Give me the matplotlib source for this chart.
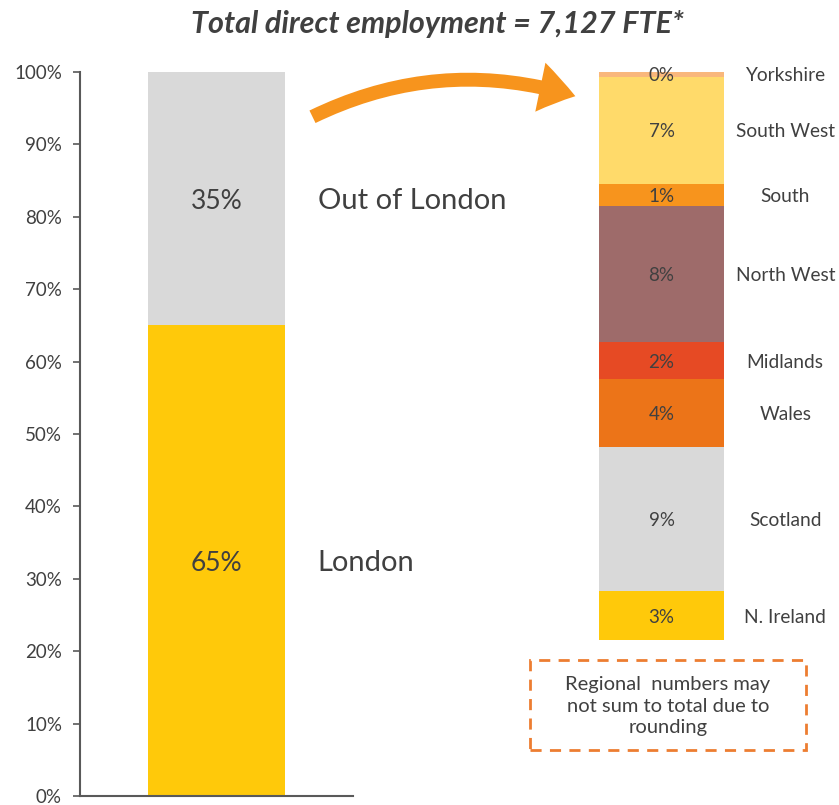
import matplotlib.pyplot as plt
import matplotlib.patches as mpatches
from matplotlib.ticker import PercentFormatter

plt.rcParams['font.family'] = ['Lato', 'DejaVu Sans']

# left bar: split of total employment (%)
split_labels = ["London", "Out of London"]
split_values = [65, 35]
split_colors = ["#FFC90A", "#D9D9D9"]

# right bar: regional breakdown (% of total), bottom to top
regions = ["N. Ireland", "Scotland", "Wales", "Midlands", "North West",
           "South", "South West", "Yorkshire"]
region_values = [3.0, 8.9, 4.2, 2.3, 8.4, 1.4, 6.6, 0.3]
region_colors = ["#FFC90A", "#D9D9D9", "#EC7418", "#E64A24", "#9E6B6A",
                 "#F7941D", "#FFDA6A", "#F9B77C"]

txt = "#404040"
W, H = 839, 805
fig = plt.figure(figsize=(W / 100, H / 100), dpi=100)

def box(x0, y0, x1, y1):
    # pixel box (y from top) -> figure fraction rect
    return [x0 / W, 1 - y1 / H, (x1 - x0) / W, (y1 - y0) / H]

# ---- left bar
ax = fig.add_axes(box(80, 72, 353, 796))
bottom = 0
for lab, v, c in zip(split_labels, split_values, split_colors):
    ax.bar(0, v, width=1, bottom=bottom, color=c)
    ax.text(0, bottom + v / 2, f"{v}%", ha="center", va="center_baseline",
            fontsize=19, color=txt)
    ax.text(0.74, bottom + v / 2, lab, ha="left", va="center_baseline",
            fontsize=21, color=txt, clip_on=False)
    bottom += v
ax.set_xlim(-1, 1)
ax.set_ylim(0, 100)
ax.set_yticks(range(0, 101, 10))
ax.yaxis.set_major_formatter(PercentFormatter(decimals=0))
ax.set_xticks([])
for s in ["top", "right"]:
    ax.spines[s].set_visible(False)
for s in ["left", "bottom"]:
    ax.spines[s].set_color("#595959")
    ax.spines[s].set_linewidth(1.5)
ax.tick_params(axis="y", colors="#595959", labelsize=13.5, length=5, width=1.2,
               labelcolor=txt, pad=8)

# ---- right bar (regional)
ax2 = fig.add_axes(box(599, 72, 724, 796))
total = sum(region_values)
# stack top at 100% line, stack bottom at ~22% of the left axis
px_per_unit = (640 - 72) / total
span = (796 - 72) / px_per_unit
ax2.set_ylim(total - span, total)
ax2.set_xlim(-0.5, 0.5)
bottom = 0
for lab, v, c in zip(regions, region_values, region_colors):
    ax2.bar(0, v, width=1, bottom=bottom, color=c)
    ax2.text(0, bottom + v / 2, f"{round(v)}%", ha="center",
             va="center_baseline", fontsize=13.5, color=txt)
    ax2.text(0.99, bottom + v / 2, lab, ha="center", va="center_baseline",
             fontsize=13.8, color=txt, clip_on=False)
    bottom += v
ax2.axis("off")

# ---- title
fig.text(437 / W, 1 - 24 / H, "Total direct employment = 7,127 FTE*",
         ha="center", va="center", fontsize=22, fontweight="bold",
         fontstyle="italic", color=txt)

# ---- curved arrow
arrow = mpatches.FancyArrowPatch(
    (310 / W, 1 - 118 / H), (578 / W, 1 - 97 / H),
    transform=fig.transFigure,
    connectionstyle="arc3,rad=-0.2",
    arrowstyle=mpatches.ArrowStyle.Simple(head_length=1.3, head_width=1.8,
                                          tail_width=0.5),
    mutation_scale=20, color="#F7941D", lw=0)
fig.patches.append(arrow)

# ---- note box
r = box(530, 660, 806, 750)
note = mpatches.Rectangle((r[0], r[1]), r[2], r[3], transform=fig.transFigure,
                          fill=False, edgecolor="#ED7D31", lw=2,
                          linestyle=(0, (4, 3)))
fig.patches.append(note)
fig.text(668 / W, 1 - 706 / H,
         "Regional  numbers may\nnot sum to total due to\nrounding",
         ha="center", va="center", fontsize=14.5, color=txt, linespacing=1.3)

fig.savefig("out.png", dpi=100)
